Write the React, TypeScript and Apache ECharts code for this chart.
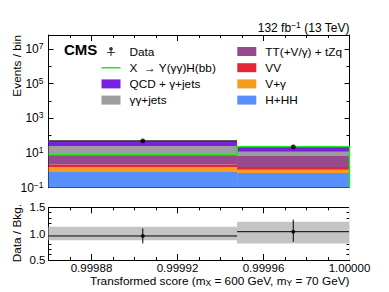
import React, { useEffect, useRef } from 'react';
import * as echarts from 'echarts';

// ---- data ----
const binEdges = [0.99986, 0.9999477, 1.0];
const bkgNames = ['H+HH', 'V+γ', 'VV', 'TT(+V/γ) + tZq', 'γγ+jets', 'QCD + γ+jets'];
const bkgColors = ['#5790fc', '#f89c20', '#e42536', '#964a8b', '#9c9ca1', '#7a21dd'];
const hhh = [0.8, 0.7];
const vGamma = [0.76, 0.4];
const vv = [0.59, 0.46];
const ttx = [5.75, 5.24];
const ggJets = [17.9, 5.1];
const qcdGJets = [22.2, 9.8];
const signalName = 'X  → Y(γγ)H(bb)';
const signal = [8.0, 23.0];
const dataCounts = [50, 22.6];
const dataErrUp = [7.4, 5.3];
const dataErrDown = [6.9, 4.6];
const bkgUncUp = [1.13, 1.226];
const bkgUncDown = [0.876, 0.815];
const ratioVals = [0.956, 1.037];
const ratioErrUp = [0.142, 0.228];
const ratioErrDown = [0.141, 0.192];
const xMajorTicks = [0.99988, 0.99992, 0.99996, 1.0];
const xMinorTicks = [0.99987, 0.99989, 0.9999, 0.99991, 0.99993, 0.99994, 0.99995, 0.99997, 0.99998, 0.99999];
const yMainTicks = [0.1, 10, 1000, 1e5, 1e7];
const yMainMinor = [1, 100, 1e4, 1e6];

const FONT = 'Liberation Sans, Arial, Helvetica, sans-serif';
const X_MIN = 0.99986;
const X_MAX = 1.0;
const Y_MIN = 0.1;
const Y_MAX = 6.5e7;
const SIGNAL_COLOR = '#1ee81e';

const bkgArrays = [hhh, vGamma, vv, ttx, ggJets, qcdGJets];

function rectRender(params: any, api: any) {
  const p0 = api.coord([api.value(0), api.value(3)]);
  const p1 = api.coord([api.value(1), api.value(2)]);
  return {
    type: 'rect',
    shape: { x: p0[0], y: p0[1], width: p1[0] - p0[0], height: p1[1] - p0[1] },
    style: { fill: api.visual('color') },
  };
}

function errRender(params: any, api: any) {
  const x0 = api.value(0), x1 = api.value(1), y = api.value(2), lo = api.value(3), hi = api.value(4);
  const xc = (x0 + x1) / 2;
  const a = api.coord([x0, y]);
  const b = api.coord([x1, y]);
  const c = api.coord([xc, lo]);
  const d = api.coord([xc, hi]);
  return {
    type: 'group',
    children: [
      { type: 'line', shape: { x1: a[0], y1: a[1], x2: b[0], y2: b[1] }, style: { stroke: '#000', lineWidth: 1 } },
      { type: 'line', shape: { x1: c[0], y1: c[1], x2: d[0], y2: d[1] }, style: { stroke: '#000', lineWidth: 1 } },
    ],
  };
}

export default function App() {
  const ref = useRef<HTMLDivElement>(null);
  useEffect(() => {
    document.body.style.margin = '0';
    const chart = echarts.init(ref.current!, undefined, { renderer: 'svg' });
    const nb = binEdges.length - 1;
    const bins = Array.from({ length: nb }, (_, i) => i);
    const centers = bins.map((b) => (binEdges[b] + binEdges[b + 1]) / 2);

    const cum: number[][] = [];
    const stackSeries: any[] = bkgArrays.map((arr, k) => {
      const data = bins.map((b) => {
        const low = k === 0 ? Y_MIN : cum[k - 1][b];
        const high = (k === 0 ? 0 : cum[k - 1][b]) + arr[b];
        return [binEdges[b], binEdges[b + 1], low, high];
      });
      cum.push(bins.map((b) => (k === 0 ? 0 : cum[k - 1][b]) + arr[b]));
      return {
        type: 'custom',
        name: bkgNames[k],
        xAxisIndex: 0,
        yAxisIndex: 0,
        renderItem: rectRender,
        encode: { x: [0, 1], y: [2, 3] },
        itemStyle: { color: bkgColors[k] },
        data,
        z: 3,
        clip: true,
      };
    });
    const totals = cum[cum.length - 1];

    const uncBand = {
      type: 'custom',
      name: 'unc',
      xAxisIndex: 0,
      yAxisIndex: 0,
      renderItem: rectRender,
      encode: { x: [0, 1], y: [2, 3] },
      itemStyle: { color: '#c8c8c8' },
      data: bins.map((b) => [binEdges[b], binEdges[b + 1], totals[b] * bkgUncDown[b], totals[b] * bkgUncUp[b]]),
      z: 2,
    };

    const signalPts: number[][] = [];
    bins.forEach((b) => {
      signalPts.push([binEdges[b], signal[b]]);
      signalPts.push([binEdges[b + 1], signal[b]]);
    });
    signalPts.push([binEdges[nb], Y_MIN]);

    const axisLineStyle = { color: '#000', width: 1 };
    const xAxisBase = (grid: number, pos: string, vals: number[], len: number, labels: boolean) => ({
      type: 'value',
      gridIndex: grid,
      position: pos,
      min: X_MIN,
      max: X_MAX,
      axisLine: { show: true, onZero: false, lineStyle: axisLineStyle },
      axisTick: { show: true, inside: true, length: len, customValues: vals, lineStyle: { color: '#000', width: 1 } },
      axisLabel: labels
        ? {
            show: true,
            customValues: vals,
            formatter: (v: number) => v.toFixed(5),
            fontSize: 11.5,
            lineHeight: 12,
            color: '#000',
            fontFamily: FONT,
            margin: 1.5,
          }
        : { show: false },
      splitLine: { show: false },
    });

    const yMainBase = (pos: string, labels: boolean) => ({
      type: 'log',
      gridIndex: 0,
      position: pos,
      min: Y_MIN,
      max: Y_MAX,
      logBase: 10,
      axisLine: { show: true, onZero: false, lineStyle: axisLineStyle },
      axisTick: { show: true, inside: true, length: 5, customValues: yMainTicks, lineStyle: { color: '#000' } },
      axisLabel: labels
        ? {
            show: true,
            customValues: yMainTicks,
            formatter: (v: number) => {
              const e = Math.round(Math.log10(v));
              return '10{sup|' + (e < 0 ? '−' + -e : String(e)) + '}';
            },
            fontSize: 12,
            color: '#000',
            fontFamily: FONT,
            margin: 5,
            rich: { sup: { fontSize: 8.5, fontFamily: FONT, color: '#000', verticalAlign: 'top', padding: [0, 0, 6, 0] } },
          }
        : { show: false },
      splitLine: { show: false },
    });
    const yMainMinorAxis = (pos: string) => ({
      type: 'log',
      gridIndex: 0,
      position: pos,
      min: Y_MIN,
      max: Y_MAX,
      logBase: 10,
      axisLine: { show: false },
      axisTick: { show: true, inside: true, length: 3, customValues: yMainMinor, lineStyle: { color: '#000' } },
      axisLabel: { show: false },
      splitLine: { show: false },
    });

    const yRatioBase = (pos: string, labels: boolean) => ({
      type: 'value',
      gridIndex: 1,
      position: pos,
      min: 0.5,
      max: 1.5,
      interval: 0.5,
      axisLine: { show: true, onZero: false, lineStyle: axisLineStyle },
      axisTick: { show: true, inside: true, length: 5, lineStyle: { color: '#000' } },
      minorTick: { show: true, splitNumber: 5, length: 3, lineStyle: { color: '#000' } },
      axisLabel: labels
        ? { show: true, formatter: (v: number) => v.toFixed(1), fontSize: 11.5, color: '#000', fontFamily: FONT, margin: 3 }
        : { show: false },
      splitLine: { show: false },
    });

    const gridLeft = 48.5;
    const gridWidth = 301;
    const legendText = { fontSize: 11.8, color: '#000', fontFamily: FONT, padding: [0, 0, 0, 4] };

    const option: any = {
      animation: false,
      textStyle: { fontFamily: FONT },
      grid: [
        { left: gridLeft, top: 35, width: gridWidth, height: 152.7 },
        { left: gridLeft, top: 207.3, width: gridWidth, height: 52.7 },
      ],
      xAxis: [
        xAxisBase(0, 'bottom', xMajorTicks, 6, false),
        xAxisBase(0, 'bottom', xMinorTicks, 3, false),
        xAxisBase(0, 'top', xMajorTicks, 6, false),
        xAxisBase(0, 'top', xMinorTicks, 3, false),
        xAxisBase(1, 'bottom', xMajorTicks, 6, true),
        xAxisBase(1, 'bottom', xMinorTicks, 3, false),
        xAxisBase(1, 'top', xMajorTicks, 6, false),
        xAxisBase(1, 'top', xMinorTicks, 3, false),
      ],
      yAxis: [
        yMainBase('left', true),
        yMainBase('right', false),
        yRatioBase('left', true),
        yRatioBase('right', false),
        yMainMinorAxis('left'),
        yMainMinorAxis('right'),
      ],
      legend: [
        {
          left: 101.5,
          top: 45.5,
          padding: 0,
          orient: 'vertical',
          itemWidth: 19,
          itemHeight: 9,
          itemGap: 4.2,
          selectedMode: false,
          textStyle: legendText,
          data: [
            {
              name: 'Data',
              icon: 'path://M0,0h0.01v0.01h-0.01z M18.99,8.99h0.01v0.01h-0.01z M4.5,3.8h10v1.4h-10z M8.8,0h1.4v9h-1.4z M9.5,2.1a2.4,2.4 0 1,1 0.01,0z',
            },
            {
              name: signalName,
              icon: 'path://M0,0h0.01v0.01h-0.01z M18.99,8.99h0.01v0.01h-0.01z M0,3.75h19v1.5h-19z',
            },
            { name: 'QCD + γ+jets', icon: 'rect' },
            { name: 'γγ+jets', icon: 'rect' },
          ],
        },
        {
          left: 237.3,
          top: 45.5,
          padding: 0,
          orient: 'vertical',
          itemWidth: 19,
          itemHeight: 9,
          itemGap: 4.2,
          selectedMode: false,
          textStyle: legendText,
          data: [
            { name: 'TT(+V/γ) + tZq', icon: 'rect' },
            { name: 'VV', icon: 'rect' },
            { name: 'V+γ', icon: 'rect' },
            { name: 'H+HH', icon: 'rect' },
          ],
        },
      ],
      graphic: [
        {
          type: 'text',
          left: 64,
          top: 42,
          style: { text: 'CMS', font: 'bold 15px ' + FONT, fill: '#000' },
        },
        {
          type: 'text',
          x: 349.5,
          y: 27.5,
          style: {
            text: '132 fb{sup|−1} (13 TeV)',
            fontSize: 12,
            fontFamily: FONT,
            fill: '#000',
            align: 'right',
            verticalAlign: 'middle',
            rich: { sup: { fontSize: 8.5, fontFamily: FONT, verticalAlign: 'top', padding: [0, 0, 5, 0] } },
          },
        },
        {
          type: 'text',
          x: 17,
          y: 35,
          rotation: Math.PI / 2,
          style: { text: 'Events / bin', fontSize: 11.8, fontFamily: FONT, fill: '#000', align: 'right', verticalAlign: 'middle' },
        },
        {
          type: 'text',
          x: 16.5,
          y: 204,
          rotation: Math.PI / 2,
          style: { text: 'Data / Bkg.', fontSize: 11.8, fontFamily: FONT, fill: '#000', align: 'right', verticalAlign: 'middle' },
        },
        {
          type: 'text',
          x: 349.5,
          y: 281,
          style: {
            text: 'Transformed score (m{sub|X} = 600 GeV, m{sub|Y} = 70 GeV)',
            fontSize: 11.8,
            fontFamily: FONT,
            fill: '#000',
            align: 'right',
            verticalAlign: 'middle',
            rich: { sub: { fontSize: 8.5, fontFamily: FONT, verticalAlign: 'bottom', padding: [4, 0, 0, 0] } },
          },
        },
      ],
      series: [
        ...stackSeries,
        uncBand,
        {
          type: 'custom',
          name: 'dataErr',
          xAxisIndex: 0,
          yAxisIndex: 0,
          renderItem: errRender,
          encode: { x: [0, 1], y: [2, 3, 4] },
          data: bins.map((b) => [binEdges[b], binEdges[b + 1], dataCounts[b], dataCounts[b] - dataErrDown[b], dataCounts[b] + dataErrUp[b]]),
          z: 4,
        },
        {
          type: 'line',
          name: signalName,
          xAxisIndex: 0,
          yAxisIndex: 0,
          data: signalPts,
          symbol: 'none',
          showSymbol: false,
          lineStyle: { color: SIGNAL_COLOR, width: 1.5 },
          itemStyle: { color: SIGNAL_COLOR },
          z: 5,
        },
        {
          type: 'scatter',
          name: 'Data',
          xAxisIndex: 0,
          yAxisIndex: 0,
          data: bins.map((b) => [centers[b], dataCounts[b]]),
          symbol: 'circle',
          symbolSize: 5,
          itemStyle: { color: '#000' },
          z: 6,
        },
        // ratio panel
        {
          type: 'custom',
          name: 'ratioGrid',
          xAxisIndex: 4,
          yAxisIndex: 2,
          renderItem: () => ({ type: 'group', children: [] }),
          data: [],
          z: 1,
          markLine: {
            silent: true,
            symbol: 'none',
            label: { show: false },
            lineStyle: { color: '#e4e4e4', width: 1, type: 'solid' },
            data: xMajorTicks.filter((v) => v < X_MAX).map((v) => ({ xAxis: v })),
          },
        },
        {
          type: 'custom',
          name: 'ratioBand',
          xAxisIndex: 4,
          yAxisIndex: 2,
          renderItem: rectRender,
          encode: { x: [0, 1], y: [2, 3] },
          itemStyle: { color: '#c4c4c4' },
          data: bins.map((b) => [binEdges[b], binEdges[b + 1], bkgUncDown[b], bkgUncUp[b]]),
          z: 2,
        },
        {
          type: 'custom',
          name: 'ratioErr',
          xAxisIndex: 4,
          yAxisIndex: 2,
          renderItem: errRender,
          encode: { x: [0, 1], y: [2, 3, 4] },
          data: bins.map((b) => [binEdges[b], binEdges[b + 1], ratioVals[b], ratioVals[b] - ratioErrDown[b], ratioVals[b] + ratioErrUp[b]]),
          z: 3,
        },
        {
          type: 'scatter',
          name: 'ratioPts',
          xAxisIndex: 4,
          yAxisIndex: 2,
          data: bins.map((b) => [centers[b], ratioVals[b]]),
          symbol: 'circle',
          symbolSize: 4,
          itemStyle: { color: '#000' },
          z: 4,
        },
      ],
    };
    chart.setOption(option);
    return () => chart.dispose();
  }, []);
  return <div ref={ref} style={{ position: 'absolute', left: 0, top: 0, width: 389, height: 292 }} />;
}
